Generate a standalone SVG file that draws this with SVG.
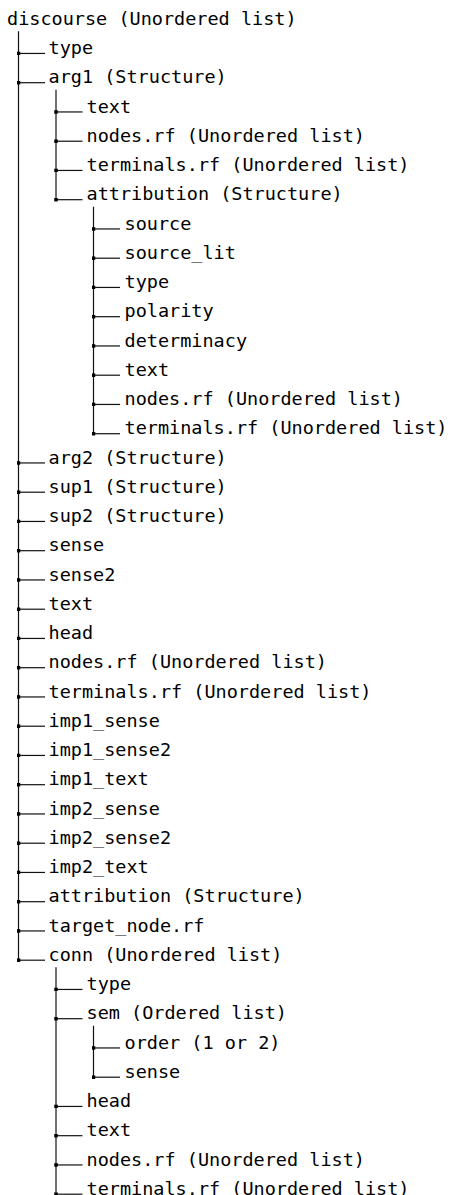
<svg xmlns="http://www.w3.org/2000/svg" width="450" height="1195" viewBox="0 0 450 1195">
<style>
text{font-family:"DejaVu Sans Mono","Liberation Mono",monospace;font-size:18.5px;fill:#000}
.trunk{stroke:#111;stroke-width:1.2;fill:none}
.branch{stroke:#111;stroke-width:1.2;fill:none;marker-start:url(#dot)}
</style>
<defs>
<marker id="dot" markerWidth="4" markerHeight="4" refX="2" refY="2" markerUnits="userSpaceOnUse"><rect x="0.25" y="0.25" width="3.5" height="3.5" fill="#000"/></marker>
</defs>
<rect width="450" height="1195" fill="#fff"/>
<g id="connectors">
<path class="trunk" d="M18.5 31.2V960.2"/>
<path class="trunk" d="M56 89.7V199.7"/>
<path class="trunk" d="M93.5 206.7V433.7"/>
<path class="trunk" d="M56 967.2V1194.2"/>
<path class="trunk" d="M93.5 1025.7V1077.2"/>
<path class="branch" d="M18.5 53.45h26.5"/>
<path class="branch" d="M18.5 82.7h26.5"/>
<path class="branch" d="M56 111.95h26.5"/>
<path class="branch" d="M56 141.2h26.5"/>
<path class="branch" d="M56 170.45h26.5"/>
<path class="branch" d="M56 199.7h26.5"/>
<path class="branch" d="M93.5 228.95h26.5"/>
<path class="branch" d="M93.5 258.2h26.5"/>
<path class="branch" d="M93.5 287.45h26.5"/>
<path class="branch" d="M93.5 316.7h26.5"/>
<path class="branch" d="M93.5 345.95h26.5"/>
<path class="branch" d="M93.5 375.2h26.5"/>
<path class="branch" d="M93.5 404.45h26.5"/>
<path class="branch" d="M93.5 433.7h26.5"/>
<path class="branch" d="M18.5 462.95h26.5"/>
<path class="branch" d="M18.5 492.2h26.5"/>
<path class="branch" d="M18.5 521.45h26.5"/>
<path class="branch" d="M18.5 550.7h26.5"/>
<path class="branch" d="M18.5 579.95h26.5"/>
<path class="branch" d="M18.5 609.2h26.5"/>
<path class="branch" d="M18.5 638.45h26.5"/>
<path class="branch" d="M18.5 667.7h26.5"/>
<path class="branch" d="M18.5 696.95h26.5"/>
<path class="branch" d="M18.5 726.2h26.5"/>
<path class="branch" d="M18.5 755.45h26.5"/>
<path class="branch" d="M18.5 784.7h26.5"/>
<path class="branch" d="M18.5 813.95h26.5"/>
<path class="branch" d="M18.5 843.2h26.5"/>
<path class="branch" d="M18.5 872.45h26.5"/>
<path class="branch" d="M18.5 901.7h26.5"/>
<path class="branch" d="M18.5 930.95h26.5"/>
<path class="branch" d="M18.5 960.2h26.5"/>
<path class="branch" d="M56 989.45h26.5"/>
<path class="branch" d="M56 1018.7h26.5"/>
<path class="branch" d="M93.5 1047.95h26.5"/>
<path class="branch" d="M93.5 1077.2h26.5"/>
<path class="branch" d="M56 1106.45h26.5"/>
<path class="branch" d="M56 1135.7h26.5"/>
<path class="branch" d="M56 1164.95h26.5"/>
<path class="branch" d="M56 1194.2h26.5"/>
</g>
<g id="discourse"><text x="7" y="24.7">discourse (Unordered list)</text></g>
<g id="type"><text x="48.5" y="54">type</text></g>
<g id="arg1"><text x="48.5" y="83.2">arg1 (Structure)</text></g>
<g id="arg1-text"><text x="86.5" y="112.5">text</text></g>
<g id="arg1-nodes"><text x="86.5" y="141.7">nodes.rf (Unordered list)</text></g>
<g id="arg1-terminals"><text x="86.5" y="171">terminals.rf (Unordered list)</text></g>
<g id="arg1-attribution"><text x="86.5" y="200.2">attribution (Structure)</text></g>
<g id="attr-source"><text x="124.5" y="229.5">source</text></g>
<g id="attr-source_lit"><text x="124.5" y="258.7">source_lit</text></g>
<g id="attr-type"><text x="124.5" y="288">type</text></g>
<g id="attr-polarity"><text x="124.5" y="317.2">polarity</text></g>
<g id="attr-determinacy"><text x="124.5" y="346.5">determinacy</text></g>
<g id="attr-text"><text x="124.5" y="375.7">text</text></g>
<g id="attr-nodes"><text x="124.5" y="405">nodes.rf (Unordered list)</text></g>
<g id="attr-terminals"><text x="124.5" y="434.2">terminals.rf (Unordered list)</text></g>
<g id="arg2"><text x="48.5" y="463.5">arg2 (Structure)</text></g>
<g id="sup1"><text x="48.5" y="492.7">sup1 (Structure)</text></g>
<g id="sup2"><text x="48.5" y="522">sup2 (Structure)</text></g>
<g id="sense"><text x="48.5" y="551.2">sense</text></g>
<g id="sense2"><text x="48.5" y="580.5">sense2</text></g>
<g id="text"><text x="48.5" y="609.7">text</text></g>
<g id="head"><text x="48.5" y="639">head</text></g>
<g id="nodes"><text x="48.5" y="668.2">nodes.rf (Unordered list)</text></g>
<g id="terminals"><text x="48.5" y="697.5">terminals.rf (Unordered list)</text></g>
<g id="imp1_sense"><text x="48.5" y="726.7">imp1_sense</text></g>
<g id="imp1_sense2"><text x="48.5" y="756">imp1_sense2</text></g>
<g id="imp1_text"><text x="48.5" y="785.2">imp1_text</text></g>
<g id="imp2_sense"><text x="48.5" y="814.5">imp2_sense</text></g>
<g id="imp2_sense2"><text x="48.5" y="843.7">imp2_sense2</text></g>
<g id="imp2_text"><text x="48.5" y="873">imp2_text</text></g>
<g id="attribution"><text x="48.5" y="902.2">attribution (Structure)</text></g>
<g id="target_node"><text x="48.5" y="931.5">target_node.rf</text></g>
<g id="conn"><text x="48.5" y="960.7">conn (Unordered list)</text></g>
<g id="conn-type"><text x="86.5" y="990">type</text></g>
<g id="conn-sem"><text x="86.5" y="1019.2">sem (Ordered list)</text></g>
<g id="sem-order"><text x="124.5" y="1048.5">order (1 or 2)</text></g>
<g id="sem-sense"><text x="124.5" y="1077.7">sense</text></g>
<g id="conn-head"><text x="86.5" y="1107">head</text></g>
<g id="conn-text"><text x="86.5" y="1136.2">text</text></g>
<g id="conn-nodes"><text x="86.5" y="1165.5">nodes.rf (Unordered list)</text></g>
<g id="conn-terminals"><text x="86.5" y="1194.5">terminals.rf (Unordered list)</text></g>
</svg>
